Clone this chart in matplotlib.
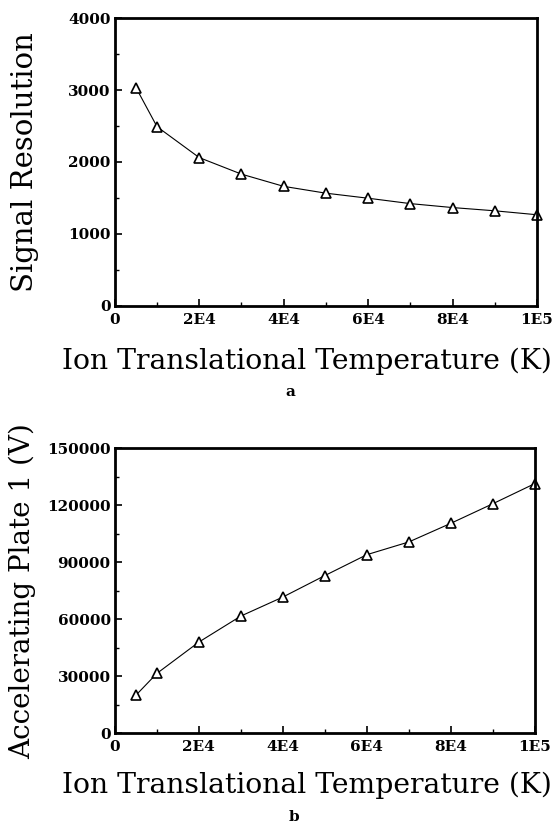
import numpy as np
import matplotlib
matplotlib.use("Agg")
import matplotlib.pyplot as plt

# Data
temp = [5000, 10000, 20000, 30000, 40000, 50000, 60000, 70000, 80000, 90000, 100000]
resolution = [3035, 2490, 2060, 1830, 1660, 1565, 1495, 1420, 1365, 1320, 1265]
plate_v = [20000, 31500, 48000, 61700, 71700, 83000, 94000, 100700, 110500, 120800, 131400]

xticks = [0, 20000, 40000, 60000, 80000, 100000]
xticklabels = ["0", "2E4", "4E4", "6E4", "8E4", "1E5"]

plt.rcParams["font.family"] = ["DejaVu Serif"]

fig = plt.figure(figsize=(5.6, 8.24), dpi=100)
ax1 = fig.add_axes([0.205, 0.629, 0.754, 0.349])
ax2 = fig.add_axes([0.205, 0.110, 0.750, 0.346])


def style(ax, yticks):
    ax.set_xlim(0, 100000)
    ax.set_xticks(xticks)
    ax.set_xticklabels(xticklabels)
    ax.set_xticks(np.arange(0, 100001, 10000), minor=True)
    ax.set_yticks(yticks)
    ax.set_yticklabels([str(v) for v in yticks])
    ax.set_ylim(yticks[0], yticks[-1])
    for s in ax.spines.values():
        s.set_linewidth(2)
    ax.tick_params(which="both", direction="in", labelsize=11)
    ax.tick_params(axis="x", pad=5)
    ax.tick_params(axis="y", pad=3)
    ax.tick_params(which="major", length=5, width=1.2)
    ax.tick_params(which="minor", length=3, width=1)
    for lab in ax.get_xticklabels() + ax.get_yticklabels():
        lab.set_fontweight("bold")
    ax.set_xlabel("Ion Translational Temperature (K)", fontsize=20.3, va="center")


line_kw = dict(color="black", lw=0.8, marker="^", markersize=6.5,
               markerfacecolor="white", markeredgecolor="black",
               markeredgewidth=1.2, clip_on=False)

ax1.plot(temp, resolution, **line_kw)
style(ax1, [0, 1000, 2000, 3000, 4000])
ax1.set_yticks(np.arange(0, 4001, 500), minor=True)
ax1.set_ylabel("Signal Resolution", fontsize=21, va="center")
ax1.yaxis.set_label_coords(-0.213, 0.5)
ax1.xaxis.set_label_coords(0.455, -0.194)

ax2.plot(temp, plate_v, **line_kw)
style(ax2, [0, 30000, 60000, 90000, 120000, 150000])
ax2.set_yticks(np.arange(0, 150001, 15000), minor=True)
ax2.set_ylabel("Accelerating Plate 1 (V)", fontsize=20, va="center")
ax2.yaxis.set_label_coords(-0.221, 0.5)
ax2.xaxis.set_label_coords(0.457, -0.182)

fig.text(290 / 560, 1 - 392 / 824, "a", fontsize=11, fontweight="bold",
         ha="center", va="center")
fig.text(294 / 560, 1 - 817 / 824, "b", fontsize=11, fontweight="bold",
         ha="center", va="center")

fig.savefig("out.png", dpi=100)
